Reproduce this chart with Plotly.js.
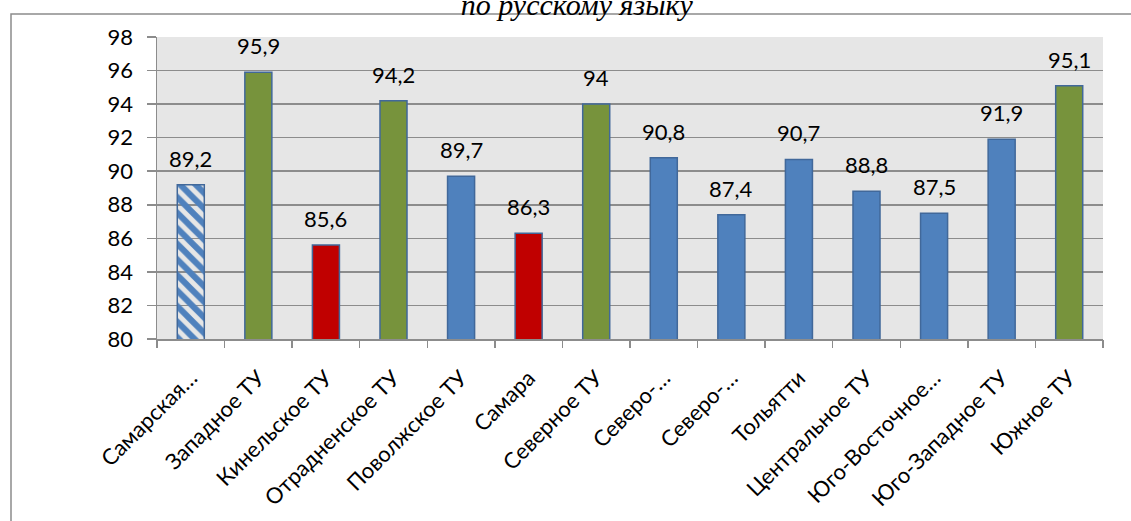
<!DOCTYPE html>
<html>
<head>
<meta charset="utf-8">
<script src="https://cdn.plot.ly/plotly-3.0.1.min.js"></script>
<style>html,body{margin:0;padding:0;background:#fff;}#chart{width:1131px;height:521px;}</style>
</head>
<body>
<div id="chart"></div>
<script>
var categories = ["Самарская…", "Западное ТУ", "Кинельское ТУ", "Отрадненское ТУ", "Поволжское ТУ", "Самара", "Северное ТУ", "Северо-…", "Северо-…", "Тольятти", "Центральное ТУ", "Юго-Восточное…", "Юго-Западное ТУ", "Южное ТУ"];
var values = [89.2, 95.9, 85.6, 94.2, 89.7, 86.3, 94, 90.8, 87.4, 90.7, 88.8, 87.5, 91.9, 95.1];
var groups = ["region", "high", "low", "high", "mid", "low", "high", "mid", "mid", "mid", "mid", "mid", "mid", "high"];
var yTicks = [80, 82, 84, 86, 88, 90, 92, 94, 96, 98];
var titleText = "по русскому языку";

var colorMap = {region: "#4f81bd", high: "#77933c", low: "#c00000", mid: "#4f81bd"};
var idx = categories.map(function(_, i){ return i; });
var labels = values.map(function(v){ return String(v).replace(".", ","); });
var font = "Lato, 'Open Sans', sans-serif";

var bars = {
  type: "bar",
  x: idx,
  y: values,
  width: 0.4,
  marker: {
    color: groups.map(function(g){ return colorMap[g]; }),
    line: {color: "#41689a", width: 1.5},
    pattern: {
      shape: groups.map(function(g){ return g === "region" ? "\\" : ""; }),
      fgcolor: groups.map(function(g){ return colorMap[g]; }),
      bgcolor: groups.map(function(g){ return "#ffffff"; }),
      fillmode: "replace",
      size: 11,
      solidity: 0.55
    }
  },
  hoverinfo: "skip"
};
var dummy = {type: "scatter", x: [-0.5], y: [80], xaxis: "x2", mode: "markers", marker: {opacity: 0}, hoverinfo: "skip", showlegend: false};

var annotations = values.map(function(v, i){
  return {x: i, y: v, xref: "x", yref: "y", text: labels[i], showarrow: false,
    yanchor: "bottom", yshift: 11, font: {family: font, size: 22, color: "#000"}};
});

var bdL = (11 - 157) / 946, bdT = (339 - 14) / 302;
var layout = {
  width: 1131, height: 521,
  margin: {l: 157, r: 28, t: 37, b: 182},
  paper_bgcolor: "#ffffff",
  plot_bgcolor: "#e6e6e6",
  showlegend: false,
  title: {text: titleText, font: {family: "'Liberation Serif', 'Times New Roman', serif", size: 30, color: "#000", style: "italic"},
    x: 0.51, xanchor: "center", yref: "container", y: 0.972, yanchor: "bottom", pad: {t: 0, b: 0}},
  xaxis: {
    range: [-0.5, 13.5], tickvals: idx, ticktext: categories, tickangle: -45,
    ticks: "", showgrid: false, zeroline: false,
    ticklabelstandoff: 16, ticklabelshift: 0,
    showline: true, linecolor: "#8c8c8c", linewidth: 1.5,
    tickfont: {family: font, size: 22, color: "#000"}
  },
  xaxis2: {
    overlaying: "x", anchor: "y", range: [-0.5, 13.5],
    tickmode: "array", tickvals: [-0.5,0.5,1.5,2.5,3.5,4.5,5.5,6.5,7.5,8.5,9.5,10.5,11.5,12.5,13.5],
    ticks: "outside", ticklen: 8, tickcolor: "#8c8c8c", tickwidth: 1.5,
    showticklabels: false, showgrid: false, zeroline: false, showline: false
  },
  yaxis: {
    range: [80, 98], tickvals: yTicks, ticktext: yTicks.map(String),
    ticks: "outside", ticklen: 9, tickcolor: "#8c8c8c", tickwidth: 1.5,
    ticklabelstandoff: 9,
    showgrid: true, gridcolor: "#8c8c8c", gridwidth: 1.5,
    showline: true, linecolor: "#8c8c8c", linewidth: 1.5, zeroline: false,
    tickfont: {family: font, size: 22, color: "#000"}
  },
  bargap: 0.6,
  annotations: annotations,
  shapes: [
    {type: "rect", xref: "paper", yref: "paper", x0: bdL, x1: 1.2, y0: -1, y1: bdT,
     line: {color: "#8c8c8c", width: 1.5}, fillcolor: "rgba(0,0,0,0)", layer: "below"}
  ]
};

Plotly.newPlot("chart", [bars, dummy], layout, {displayModeBar: false, staticPlot: true});
</script>
</body>
</html>
